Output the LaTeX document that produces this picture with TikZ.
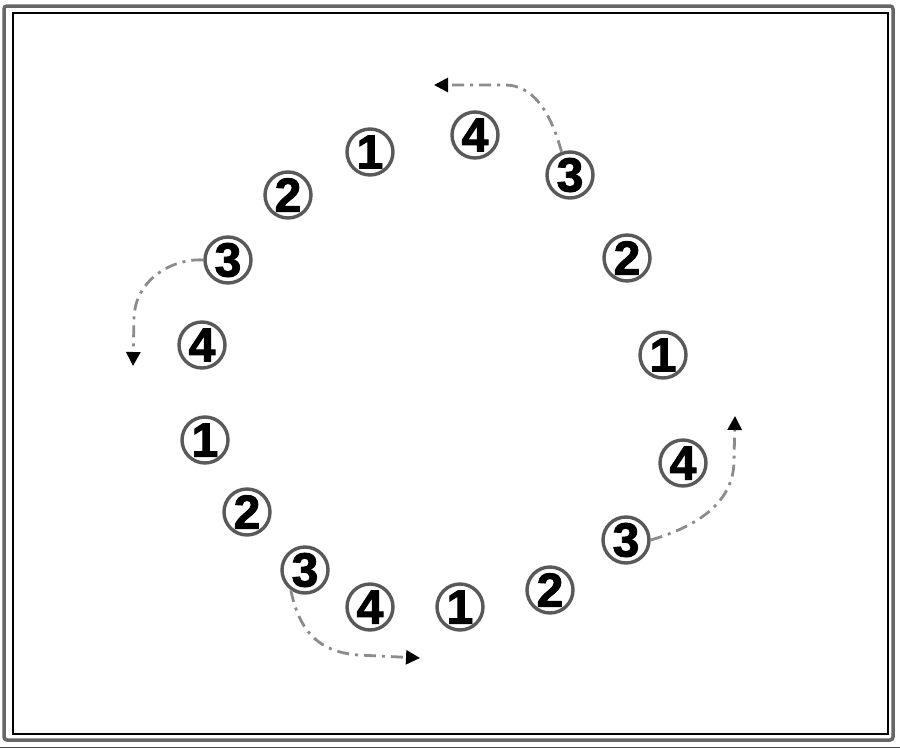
\documentclass[tikz,border=0pt]{standalone}
\usepackage{fontspec}
\setmainfont{Liberation Sans}
\newfontfamily\numfont{Liberation Sans Bold}[FakeBold=2]
\usetikzlibrary{arrows.meta}
\begin{document}
\begin{tikzpicture}[x=1pt,y=-1pt,
 num/.style={circle,draw=black!65,line width=3.4pt,minimum size=46pt,inner sep=0pt,
   font=\numfont\fontsize{48}{48}\selectfont},
 flow/.style={draw=black!45,line width=2.8pt,dash pattern=on 12pt off 6pt on 3pt off 6pt,
   -{Triangle[length=14pt,width=14pt,color=black]}}]
\useasboundingbox (0,0) rectangle (900,750);
\fill[white] (0,0) rectangle (900,750);
% frame
\draw[black!60,line width=3.5pt,rounded corners=3pt] (4,6) rectangle (893,740);
\draw[black,line width=1.2pt] (13,13) rectangle (888,734);
\draw[black!70,line width=1pt] (0,747) -- (900,747);
% numbers
\node[num] (n1)  at (370,152) {1};
\node[num] (n2)  at (475,135) {4};
\node[num] (t3)  at (570,175) {3};
\node[num] (n4)  at (627,258) {2};
\node[num] (n5)  at (663,355) {1};
\node[num] (n6)  at (683,463) {4};
\node[num] (r3)  at (626,540) {3};
\node[num] (n8)  at (550,590) {2};
\node[num] (n9)  at (460,607) {1};
\node[num] (n10) at (370,607) {4};
\node[num] (b3)  at (305,570) {3};
\node[num] (n12) at (247,512) {2};
\node[num] (n13) at (205,440) {1};
\node[num] (n14) at (202,345) {4};
\node[num] (l3)  at (228,260) {3};
\node[num] (n16) at (288,195) {2};
% arrow ends
\coordinate (e1) at (434,85);
\coordinate (e2) at (133,366);
\coordinate (e3) at (735,416);
\coordinate (e4) at (420,658);
% arrows
\draw[flow] (t3.110) .. controls (550,110) and (532,85) .. (505,85) -- (e1);
\draw[flow] (l3.west) .. controls (172,258) and (135,280) .. (134,318) -- (e2);
\draw[flow] (r3.east) .. controls (702,525) and (733,500) .. (734,462) -- (e3);
\draw[flow] (b3.235) .. controls (300,635) and (322,652) .. (358,655) -- (e4);
\end{tikzpicture}
\end{document}
